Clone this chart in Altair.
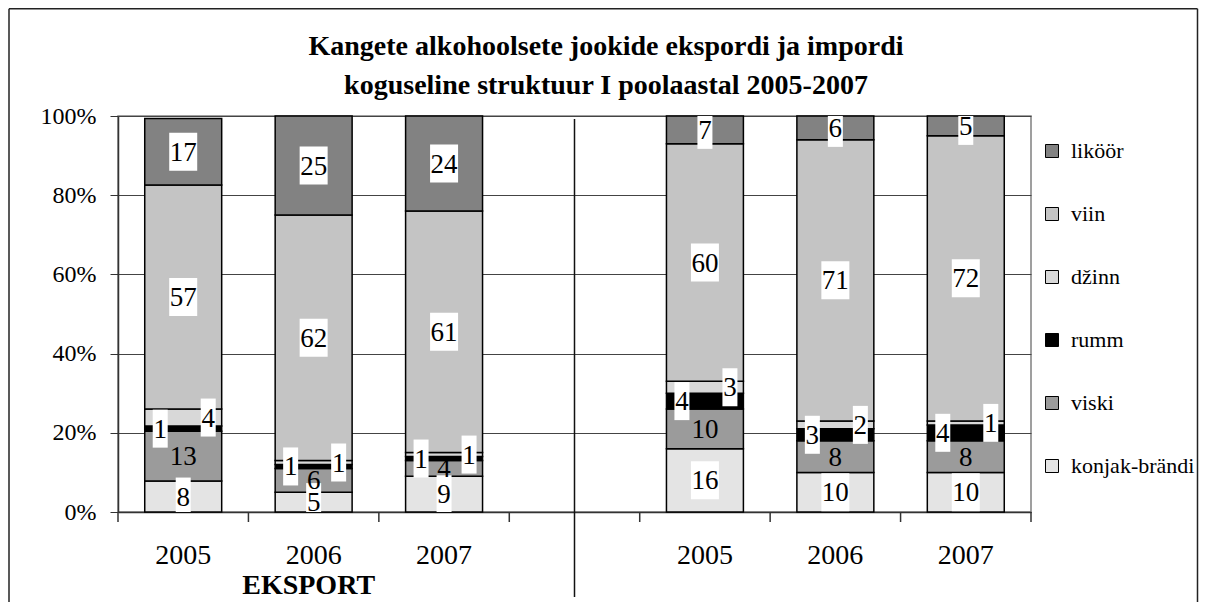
import altair as alt
import pandas as pd

FONT = "Liberation Serif"

# ---- data ----
categories = ["E2005", "E2006", "E2007", "G", "I2005", "I2006", "I2007"]
bar_categories = ["E2005", "E2006", "E2007", "I2005", "I2006", "I2007"]

series_stack = ["konjak-brändi", "viski", "rumm", "džinn", "viin", "liköör"]  # bottom -> top
legend_order = ["liköör", "viin", "džinn", "rumm", "viski", "konjak-brändi"]
legend_colors = ["#828282", "#c4c4c4", "#d8d8d8", "#000000", "#9b9b9b", "#e4e4e4"]

konjak = [7.8, 5, 9, 16, 10, 10]
viski = [12.6, 6, 4, 10, 8, 8]
rumm = [1.3, 1, 1, 4, 3, 4]
dzinn = [4.3, 1, 1, 3, 2, 1]
viin = [56.6, 62, 61, 60, 71, 72]
likoor = [16.8, 25, 24, 7, 6, 5]

title_lines = ["Kangete alkohoolsete jookide ekspordi ja impordi",
               "koguseline struktuur  I poolaastal 2005-2007"]
group_label = "EKSPORT"

values_by_series = {
    "konjak-brändi": konjak, "viski": viski, "rumm": rumm,
    "džinn": dzinn, "viin": viin, "liköör": likoor,
}
rows = []
for order, s in enumerate(series_stack):
    for c, v in zip(bar_categories, values_by_series[s]):
        rows.append({"cat": c, "series": s, "value": v, "order": order})
df = pd.DataFrame(rows)
one = pd.DataFrame({"cat": ["G"]})
cats_df = pd.DataFrame({"cat": categories})
last_df = pd.DataFrame({"cat": categories[-1:]})

PLOT_W = 913
PLOT_H = 396
HALF_STEP = PLOT_W / len(categories) / 2
BOX_HALF = 19 / PLOT_H * 100  # half label box height in % units

# ---- scales / axes ----
x = alt.X("cat:N",
          scale=alt.Scale(domain=categories, paddingInner=0.41, paddingOuter=0.205),
          axis=alt.Axis(title=None, labelExpr="slice(datum.value, 1)", ticks=False,
                        labelAngle=0, labelFontSize=28, labelFont=FONT, labelColor="black",
                        labelPadding=29, domainColor="#333",
                        domainWidth=1.5, grid=False))
yscale = alt.Scale(domain=[0, 100], nice=False)
y_axis = alt.Axis(title=None, values=[0, 20, 40, 60, 80, 100], labelExpr="datum.value + '%'",
                  labelFontSize=24, labelFont=FONT, labelColor="black", labelPadding=14,
                  tickSize=8, grid=True, gridColor="#444", gridWidth=1,
                  domainColor="#333", tickColor="#333", domainWidth=1.5)

base = (alt.Chart(df)
        .transform_stack(stack="value", groupby=["cat"], as_=["y0", "y1"],
                         sort=[alt.SortField("order", order="ascending")])
        .transform_calculate(mid="(datum.y0 + datum.y1) / 2",
                             lbl="format(datum.value, '.0f')",
                             btop=f"min(100, (datum.y0 + datum.y1) / 2 + {BOX_HALF})",
                             bbot=f"max(0, (datum.y0 + datum.y1) / 2 - {BOX_HALF})"))

bars = base.mark_bar(stroke="black", strokeWidth=1.5).encode(
    x=x,
    y=alt.Y("y1:Q", scale=yscale, axis=y_axis),
    y2="y0:Q",
    color=alt.Color("series:N",
                    scale=alt.Scale(domain=legend_order, range=legend_colors),
                    legend=alt.Legend(title=None, orient="none", legendX=923, legendY=24,
                                      symbolType="square", symbolSize=169,
                                      symbolStrokeColor="black", symbolStrokeWidth=1,
                                      labelFont=FONT, labelFontSize=22, labelColor="black",
                                      labelOffset=8, rowPadding=41, labelLimit=200)),
)

ymid = alt.Y("mid:Q", scale=yscale, axis=y_axis)

def box(filter_expr, w, xoff):
    return base.transform_filter(filter_expr).mark_bar(
        width=w, xOffset=xoff, color="white", opacity=1
    ).encode(x=x, y=alt.Y("btop:Q", scale=yscale, axis=y_axis), y2="bbot:Q")

def label(filter_expr, dx):
    return base.transform_filter(filter_expr).mark_text(
        font=FONT, fontSize=27, color="black", dx=dx, dy=1, baseline="middle"
    ).encode(x=x, y=ymid, text="lbl:N")

center_boxed = "(datum.series == 'konjak-brändi' || datum.series == 'viin' || datum.series == 'liköör')"
box_c2 = box(center_boxed + " && datum.value >= 9.5", 28, 0)
box_c1 = box(center_boxed + " && datum.value < 9.5", 15, 0)
box_r = box("datum.series == 'rumm'", 15, -23)
box_d = box("datum.series == 'džinn'", 15, 25)

lab_c = label("datum.series != 'rumm' && datum.series != 'džinn'", 0)
lab_r = label("datum.series == 'rumm'", -23)
lab_d = label("datum.series == 'džinn'", 25)

# x ticks at category boundaries
ticks_l = alt.Chart(cats_df).mark_rule(color="#333", strokeWidth=1.5, xOffset=-HALF_STEP).encode(
    x=x, y=alt.value(PLOT_H), y2=alt.value(PLOT_H + 10))
ticks_r = alt.Chart(last_df).mark_rule(color="#333", strokeWidth=1.5, xOffset=HALF_STEP).encode(
    x=x, y=alt.value(PLOT_H), y2=alt.value(PLOT_H + 10))

sep = alt.Chart(one).mark_rule(color="#111", strokeWidth=1.5).encode(
    x=x, y=alt.value(3), y2=alt.value(481))

eksport = alt.Chart(pd.DataFrame({"cat": ["E2006"]})).mark_text(
    font=FONT, fontSize=28, fontWeight="bold", color="black", dx=-5, baseline="alphabetic"
).encode(x=x, y=alt.value(478), text=alt.value(group_label))

t1 = alt.Chart(one).mark_text(font=FONT, fontSize=28, fontWeight="bold", color="black",
                              align="center", baseline="alphabetic").encode(
    x=alt.value(488), y=alt.value(-61), text=alt.value(title_lines[0]))
t2 = alt.Chart(one).mark_text(font=FONT, fontSize=28, fontWeight="bold", color="black",
                              align="center", baseline="alphabetic").encode(
    x=alt.value(488), y=alt.value(-22), text=alt.value(title_lines[1]))

frame_l = alt.Chart(one).mark_rule(color="#222", strokeWidth=1.5).encode(
    x=alt.value(-109), y=alt.value(-107.25), y2=alt.value(486))
frame_r = alt.Chart(one).mark_rule(color="#222", strokeWidth=1.5).encode(
    x=alt.value(1079.5), y=alt.value(-107.25), y2=alt.value(486))
frame_t = alt.Chart(one).mark_rule(color="#222", strokeWidth=1.5).encode(
    x=alt.value(-109), x2=alt.value(1079.5), y=alt.value(-107.25))

chart = alt.layer(
    bars, box_c2, box_c1, box_r, box_d, lab_c, lab_r, lab_d,
    ticks_l, ticks_r, sep, eksport, t1, t2, frame_l, frame_r, frame_t
).properties(
    width=PLOT_W, height=PLOT_H,
    autosize=alt.AutoSizeParams(type="none"),
    padding={"left": 110, "top": 108, "right": 168, "bottom": 90},
    background="white",
).configure_view(stroke="#808080", strokeWidth=1.5)

chart.save("out.html", embed_options={"renderer": "svg", "actions": False})
